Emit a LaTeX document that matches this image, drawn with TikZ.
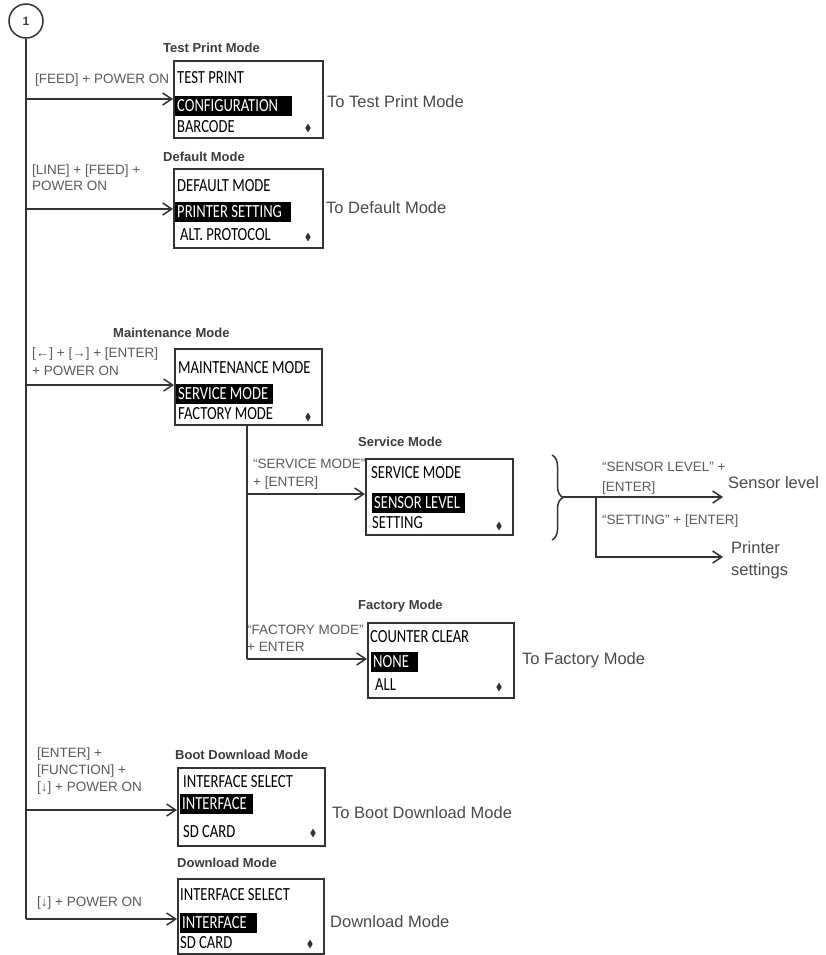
\documentclass[tikz,border=0pt]{standalone}
\usepackage{fontspec}
\setmainfont{Liberation Sans}
\newfontfamily\boxfont[FakeStretch=0.79]{Carlito}
\usetikzlibrary{arrows.meta,shapes.geometric,decorations.pathreplacing}
\definecolor{lnc}{HTML}{333333}
\definecolor{lblc}{HTML}{5A5A5A}
\definecolor{ttlc}{HTML}{3C3C3C}
\definecolor{toc}{HTML}{4A4A4A}
\newcommand{\hlw}[2]{\makebox[#1][l]{#2}}
\begin{document}
\begin{tikzpicture}[x=1pt,y=-1pt,
  line/.style={draw=lnc,line width=1.5pt},
  arr/.style={line,-{Straight Barb[length=9pt,width=12pt,line width=1.5pt]}},
  panel/.style={draw=lnc,line width=2pt,anchor=north west,inner sep=0pt},
  lbl/.style={anchor=west,inner sep=0pt,text height=9.7pt,text depth=0pt,font=\fontsize{13.5}{15}\selectfont,text=lblc},
  ttl/.style={anchor=west,inner sep=0pt,text height=9.4pt,text depth=0pt,font=\fontsize{13}{15}\selectfont\bfseries,text=ttlc},
  item/.style={anchor=west,inner sep=0pt,text height=11.9pt,text depth=0pt,font=\boxfont\fontsize{18.5}{20}\selectfont},
  hl/.style={item,fill=black,text=white,inner xsep=2pt,inner ysep=4.5pt},
  tolbl/.style={anchor=west,inner sep=0pt,text height=11.8pt,text depth=0pt,font=\fontsize{16.5}{18}\selectfont,text=toc},
  updn/.style={diamond,fill=lnc,inner sep=0pt,minimum width=5.5pt,minimum height=9pt},
]
\useasboundingbox[fill=white] (0,0) rectangle (826,955);

% start circle and main line
\node[circle,draw=lnc,line width=1.5pt,minimum size=34pt,inner sep=0pt,font=\bfseries\fontsize{12}{12}\selectfont,text=ttlc] (one) at (26,21) {1};
\coordinate (m1) at (26,99);
\coordinate (m2) at (26,209);
\coordinate (m3) at (26,385);
\coordinate (m6) at (26,810);
\coordinate (m7) at (26,919);
\draw[line] (one.south) -- (m7);

% Test Print Mode
\node[ttl] (tpt) at (163,48) {Test Print Mode};
\node[panel,minimum width=149pt,minimum height=77pt] (tp) at (173,60) {};
\node[item] (tp1) at (177,78) {TEST PRINT};
\node[hl] (tp2) at (175,106) {\hlw{113pt}{CONFIGURATION}};
\node[item] (tp3) at (177,127) {BARCODE};
\node[updn] (tp4) at (308,128) {};
\node[lbl] (l1) at (35,79) {[FEED] + POWER ON};
\node[tolbl] (t1) at (327,102) {To Test Print Mode};
\draw[arr] (m1) -- (tp.west |- m1);

% Default Mode
\node[ttl] (dft) at (163,157) {Default Mode};
\node[panel,minimum width=149pt,minimum height=79pt] (df) at (173,168) {};
\node[item] (df1) at (177,186) {DEFAULT MODE};
\node[hl] (df2) at (175,212) {\hlw{112pt}{PRINTER SETTING}};
\node[item] (df3) at (180,235) {ALT. PROTOCOL};
\node[updn] (df4) at (308,237) {};
\node[lbl] (l2a) at (32,170) {[LINE] + [FEED] +};
\node[lbl] (l2b) at (32,186) {POWER ON};
\node[tolbl] (t2) at (326,208) {To Default Mode};
\draw[arr] (m2) -- (df.west |- m2);

% Maintenance Mode
\node[ttl] (mbt) at (113,333) {Maintenance Mode};
\node[panel,minimum width=147pt,minimum height=76pt] (mb) at (174,348) {};
\node[item] (mb1) at (178,368) {MAINTENANCE MODE};
\node[hl] (mb2) at (176,394) {\hlw{93pt}{SERVICE MODE}};
\node[item] (mb3) at (178,414) {FACTORY MODE};
\node[updn] (mb4) at (308,417) {};
\node[lbl] (l3a) at (32,353) {[←] + [→] + [ENTER]};
\node[lbl] (l3b) at (32,371) {+ POWER ON};
\draw[arr] (m3) -- (mb.west |- m3);

\coordinate (sv) at (247,494);
\coordinate (fv) at (247,659);
\draw[line] (mb.south -| sv) -- (fv);

% Service Mode
\node[ttl] (sbt) at (358,442) {Service Mode};
\node[panel,minimum width=147pt,minimum height=76pt] (sb) at (365,458) {};
\node[item] (sb1) at (371,473) {SERVICE MODE};
\node[hl] (sb2) at (372,503) {\hlw{89pt}{SENSOR LEVEL}};
\node[item] (sb3) at (372,523) {SETTING};
\node[updn] (sb4) at (499,526) {};
\node[lbl] (l4a) at (253,464) {“SERVICE MODE”};
\node[lbl] (l4b) at (253,482) {+ [ENTER]};
\draw[arr] (sv) -- (sb.west |- sv);

% brace and outputs
\draw[line,decorate,decoration={brace,amplitude=11pt}] (552,455) -- (552,540);
\coordinate (bt) at (563,497);
\coordinate (bv) at (596,497);
\coordinate (bv2) at (596,557);
\node[tolbl] (slt) at (728,483) {Sensor level};
\node[tolbl] (pst1) at (731,548) {Printer};
\node[tolbl] (pst2) at (731,570) {settings};
\draw[arr,shorten >=5pt] (bt) -- (slt.west |- bt);
\draw[arr,shorten >=8pt] (bv) -- (bv2) -- (pst1.west |- bv2);
\node[lbl] (l5a) at (602,467) {“SENSOR LEVEL” +};
\node[lbl] (l5b) at (602,487) {[ENTER]};
\node[lbl] (l5c) at (602,520) {“SETTING” + [ENTER]};

% Factory Mode
\node[ttl] (fbt) at (358,605) {Factory Mode};
\node[panel,minimum width=146pt,minimum height=75pt] (fb) at (367,622) {};
\node[item] (fb1) at (370,637) {COUNTER CLEAR};
\node[hl] (fb2) at (371,662) {\hlw{43pt}{NONE}};
\node[item] (fb3) at (375,685) {ALL};
\node[updn] (fb4) at (499,687) {};
\node[lbl] (l6a) at (247,630) {“FACTORY MODE”};
\node[lbl] (l6b) at (247,647) {+ ENTER};
\node[tolbl] (t6) at (522,659) {To Factory Mode};
\draw[arr] (fv) -- (fb.west |- fv);

% Boot Download Mode
\node[ttl] (bbt) at (175,755) {Boot Download Mode};
\node[panel,minimum width=147pt,minimum height=78pt] (bb) at (177,767) {};
\node[item] (bb1) at (183,782) {INTERFACE SELECT};
\node[hl] (bb2) at (180,804) {\hlw{69pt}{INTERFACE}};
\node[item] (bb3) at (183,832) {SD CARD};
\node[updn] (bb4) at (313,833) {};
\node[lbl] (l7a) at (37,753) {[ENTER] +};
\node[lbl] (l7b) at (37,770) {[FUNCTION] +};
\node[lbl] (l7c) at (37,787) {[↓] + POWER ON};
\node[tolbl] (t7) at (332,813) {To Boot Download Mode};
\draw[arr] (m6) -- (bb.west |- m6);

% Download Mode
\node[ttl] (dbt) at (177,863) {Download Mode};
\node[panel,minimum width=146pt,minimum height=75pt] (db) at (177,878) {};
\node[item] (db1) at (180,895) {INTERFACE SELECT};
\node[hl] (db2) at (180,923) {\hlw{73pt}{INTERFACE}};
\node[item] (db3) at (180,943) {SD CARD};
\node[updn] (db4) at (310,944) {};
\node[lbl] (l8) at (37,902) {[↓] + POWER ON};
\node[tolbl] (t8) at (330,922) {Download Mode};
\draw[arr] (m7) -- (db.west |- m7);
\end{tikzpicture}
\end{document}
